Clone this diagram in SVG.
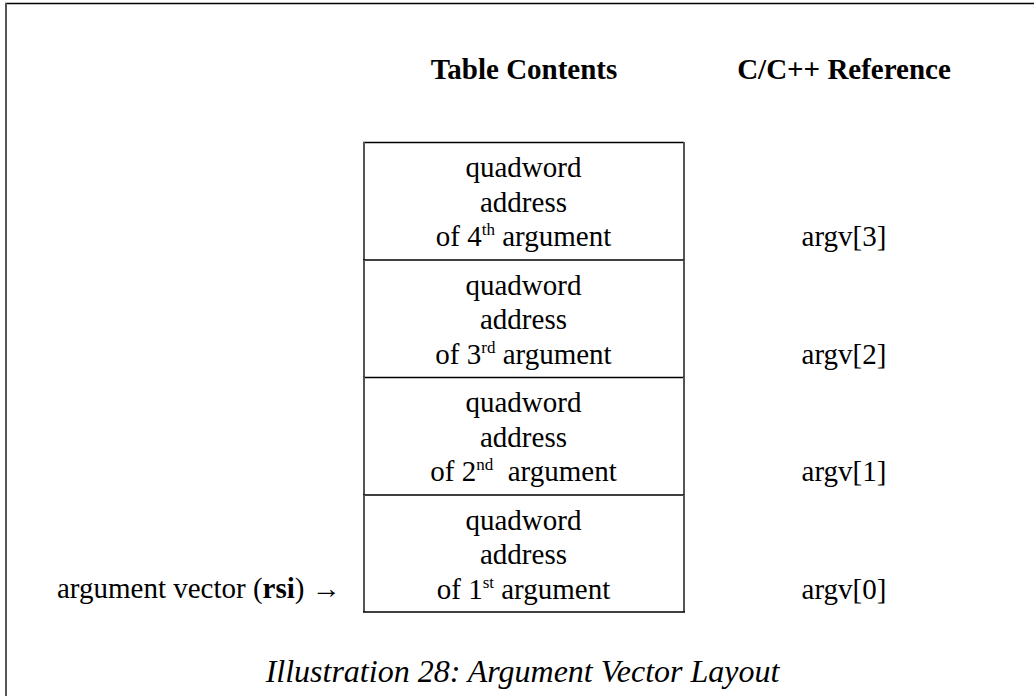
<svg xmlns="http://www.w3.org/2000/svg" width="1034" height="696" viewBox="0 0 1034 696">
<style>
text{font-family:"Liberation Serif","Times New Roman",serif;fill:#000}
.c{font-size:29px;text-anchor:middle}
.h{font-size:29px;font-weight:bold;text-anchor:middle}
.cap{font-size:32px;font-style:italic;text-anchor:middle}
.hl{stroke:#000;stroke-width:1.5;fill:none}
.vl{stroke:#555;stroke-width:2;fill:none}
</style>
<rect width="1034" height="696" fill="#fff"/>
<g id="frame">
<line class="hl" x1="5" y1="3.5" x2="1034" y2="3.5"/>
<line class="vl" x1="6" y1="3" x2="6" y2="696"/>
</g>
<g id="headers">
<text class="h" x="524" y="79">Table Contents</text>
<text class="h" x="844" y="79">C/C++ Reference</text>
</g>
<g id="row4">
<line class="hl" x1="363" y1="142.5" x2="684" y2="142.5"/>
<line class="vl" x1="364" y1="142" x2="364" y2="260"/>
<line class="vl" x1="684" y1="142" x2="684" y2="260"/>
<text class="c" x="523.5" y="177">quadword</text>
<text class="c" x="523.5" y="211.5">address</text>
<text class="c" x="523.5" y="246">of 4<tspan font-size="17" dy="-11">th</tspan><tspan dy="11"> argument</tspan></text>
<text class="c" x="844" y="246">argv[3]</text>
</g>
<g id="row3">
<line class="hl" x1="363" y1="260" x2="684" y2="260"/>
<line class="vl" x1="364" y1="260" x2="364" y2="377"/>
<line class="vl" x1="684" y1="260" x2="684" y2="377"/>
<text class="c" x="523.5" y="294.5">quadword</text>
<text class="c" x="523.5" y="329">address</text>
<text class="c" x="523.5" y="363.5">of 3<tspan font-size="17" dy="-11">rd</tspan><tspan dy="11"> argument</tspan></text>
<text class="c" x="844" y="363.5">argv[2]</text>
</g>
<g id="row2">
<line class="hl" x1="363" y1="377.5" x2="684" y2="377.5"/>
<line class="vl" x1="364" y1="377" x2="364" y2="495"/>
<line class="vl" x1="684" y1="377" x2="684" y2="495"/>
<text class="c" x="523.5" y="412">quadword</text>
<text class="c" x="523.5" y="446.5">address</text>
<text class="c" x="523.5" y="481" xml:space="preserve">of 2<tspan font-size="17" dy="-11">nd</tspan><tspan dy="11">  argument</tspan></text>
<text class="c" x="844" y="481">argv[1]</text>
</g>
<g id="row1">
<line class="hl" x1="363" y1="495" x2="684" y2="495"/>
<line class="vl" x1="364" y1="495" x2="364" y2="612"/>
<line class="vl" x1="684" y1="495" x2="684" y2="612"/>
<line class="hl" x1="363" y1="612" x2="685" y2="612"/>
<text class="c" x="523.5" y="529.5">quadword</text>
<text class="c" x="523.5" y="564">address</text>
<text class="c" x="523.5" y="598.5">of 1<tspan font-size="17" dy="-11">st</tspan><tspan dy="11"> argument</tspan></text>
<text class="c" x="844" y="598.5">argv[0]</text>
</g>
<g id="pointer">
<text font-size="29" x="57" y="597.5">argument vector (<tspan font-weight="bold">rsi</tspan>) →</text>
</g>
<g id="connectors"></g>
<g id="caption">
<text class="cap" x="522.5" y="682">Illustration 28: Argument Vector Layout</text>
</g>
</svg>
